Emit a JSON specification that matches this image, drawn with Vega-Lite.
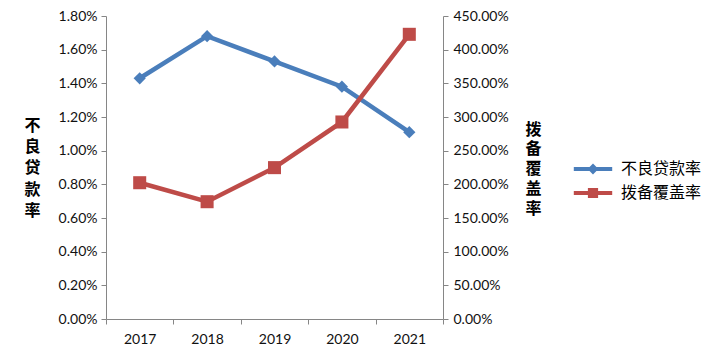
{
  "$schema": "https://vega.github.io/schema/vega-lite/v6.json",
  "width": 337,
  "height": 303,
  "autosize": {"type": "none"},
  "padding": {"left": 106, "top": 16, "right": 272, "bottom": 42},
  "background": "white",
  "config": {
    "view": {"stroke": null},
    "font": "Lato",
    "axis": {
      "domainColor": "#868686",
      "tickColor": "#868686",
      "tickSize": 5,
      "grid": false,
      "labelFont": "Lato",
      "labelFontSize": 14,
      "labelColor": "#111",
      "titleFont": "Noto Sans CJK SC",
      "titleFontSize": 16,
      "titleFontWeight": "bold",
      "titleColor": "#000"
    }
  },
  "data": {
    "values": [
      {"year": "2017", "series": "不良贷款率", "value": 0.0143},
      {"year": "2018", "series": "不良贷款率", "value": 0.0168},
      {"year": "2019", "series": "不良贷款率", "value": 0.0153},
      {"year": "2020", "series": "不良贷款率", "value": 0.0138},
      {"year": "2021", "series": "不良贷款率", "value": 0.0111},
      {"year": "2017", "series": "拨备覆盖率", "value": 2.024},
      {"year": "2018", "series": "拨备覆盖率", "value": 1.742},
      {"year": "2019", "series": "拨备覆盖率", "value": 2.248},
      {"year": "2020", "series": "拨备覆盖率", "value": 2.926},
      {"year": "2021", "series": "拨备覆盖率", "value": 4.228}
    ]
  },
  "encoding": {
    "x": {
      "field": "year",
      "type": "ordinal",
      "scale": {"type": "band", "paddingInner": 0, "paddingOuter": 0},
      "axis": {"title": null, "labelAngle": 0, "tickBand": "extent", "labelPadding": 8}
    }
  },
  "layer": [
    {
      "transform": [{"filter": "datum.series === '不良贷款率'"}],
      "encoding": {
        "y": {
          "field": "value",
          "type": "quantitative",
          "scale": {"domain": [0, 0.018], "nice": false},
          "axis": {
            "values": [0, 0.002, 0.004, 0.006, 0.008, 0.01, 0.012, 0.014, 0.016, 0.018],
            "format": ".2%",
            "labelPadding": 4,
            "title": ["不", "良", "贷", "款", "率"],
            "titleAngle": 0,
            "titleAlign": "center",
            "titleBaseline": "middle",
            "titleX": -74,
            "titleY": 109,
            "titleLineHeight": 21.4
          }
        }
      },
      "layer": [
        {"mark": {"type": "line", "color": "#4a7ebb", "strokeWidth": 4.5}},
        {"mark": {"type": "point", "shape": "diamond", "filled": true, "opacity": 1, "size": 150, "color": "#4a7ebb"}}
      ]
    },
    {
      "transform": [{"filter": "datum.series === '拨备覆盖率'"}],
      "encoding": {
        "y": {
          "field": "value",
          "type": "quantitative",
          "scale": {"domain": [0, 4.5], "nice": false},
          "axis": {
            "orient": "right",
            "values": [0, 0.5, 1, 1.5, 2, 2.5, 3, 3.5, 4, 4.5],
            "format": ".2%",
            "labelPadding": 5,
            "title": ["拨", "备", "覆", "盖", "率"],
            "titleAngle": 0,
            "titleAlign": "center",
            "titleBaseline": "middle",
            "titleX": 90,
            "titleY": 113,
            "titleLineHeight": 19.8
          }
        }
      },
      "layer": [
        {"mark": {"type": "line", "color": "#be4b48", "strokeWidth": 4.5}},
        {"mark": {"type": "point", "shape": "square", "filled": true, "opacity": 1, "size": 170, "color": "#be4b48"}}
      ]
    },
    {
      "transform": [{"filter": "false"}],
      "mark": {"type": "point", "filled": true, "opacity": 1},
      "encoding": {
        "color": {
          "field": "series",
          "type": "nominal",
          "scale": {"domain": ["不良贷款率", "拨备覆盖率"], "range": ["#4a7ebb", "#be4b48"]},
          "legend": {
            "title": null,
            "orient": "none",
            "legendX": 479,
            "legendY": 145,
            "padding": 0,
            "symbolSize": 144,
            "symbolStrokeWidth": 0,
            "symbolOpacity": 1,
            "labelFont": "Noto Sans CJK SC",
            "labelFontSize": 16,
            "labelColor": "#000",
            "labelOffset": 20,
            "rowPadding": 8
          }
        },
        "shape": {
          "field": "series",
          "type": "nominal",
          "scale": {
            "domain": ["不良贷款率", "拨备覆盖率"],
            "range": [
              "M-3.2,-0.35H3.2V0.35H-3.2Z M0,-0.9L0.9,0L0,0.9L-0.9,0Z",
              "M-3.2,-0.35H3.2V0.35H-3.2Z M-0.85,-0.85H0.85V0.85H-0.85Z"
            ]
          }
        }
      }
    }
  ],
  "resolve": {"scale": {"y": "independent"}}
}
